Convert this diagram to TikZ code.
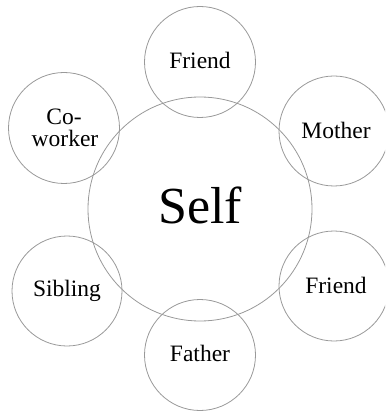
\documentclass[tikz,border=0pt]{standalone}
\usepackage{fontspec}
\setmainfont{Liberation Serif}
\begin{document}
\begin{tikzpicture}[x=1pt,y=-1pt,
  ring/.style={draw=black!40, line width=0.8pt, circle, inner sep=0pt},
  lbl/.style={font=\fontsize{23.5}{22.4}\selectfont, anchor=base, align=center, inner sep=0pt}]
\useasboundingbox (0,0) rectangle (385,411);
\clip (0,0) rectangle (385,411);
% circles
\node[ring, minimum size=224pt] (self) at (200,209) {};
\node[ring, minimum size=111pt] (c1) at (200,62) {};
\node[ring, minimum size=110pt] (c2) at (334,131) {};
\node[ring, minimum size=110pt] (c3) at (334,286) {};
\node[ring, minimum size=111pt] (c4) at (200,355) {};
\node[ring, minimum size=110pt] (c5) at (67,291) {};
\node[ring, minimum size=111pt] (c6) at (64,128) {};
% labels
\node[anchor=base, inner sep=0pt, font=\fontsize{52}{52}\selectfont] (tself) at (200,223) {Self};
\node[lbl] (t1) at (200,69) {Friend};
\node[lbl] (t2) at (336,138.3) {Mother};
\node[lbl] (t3) at (336,293.3) {Friend};
\node[lbl] (t4) at (200,361) {Father};
\node[lbl] (t5) at (67,296.7) {Sibling};
\node[lbl] (t6a) at (64,124.3) {Co-};
\node[lbl] (t6b) at (65,146.7) {worker};
\end{tikzpicture}
\end{document}
